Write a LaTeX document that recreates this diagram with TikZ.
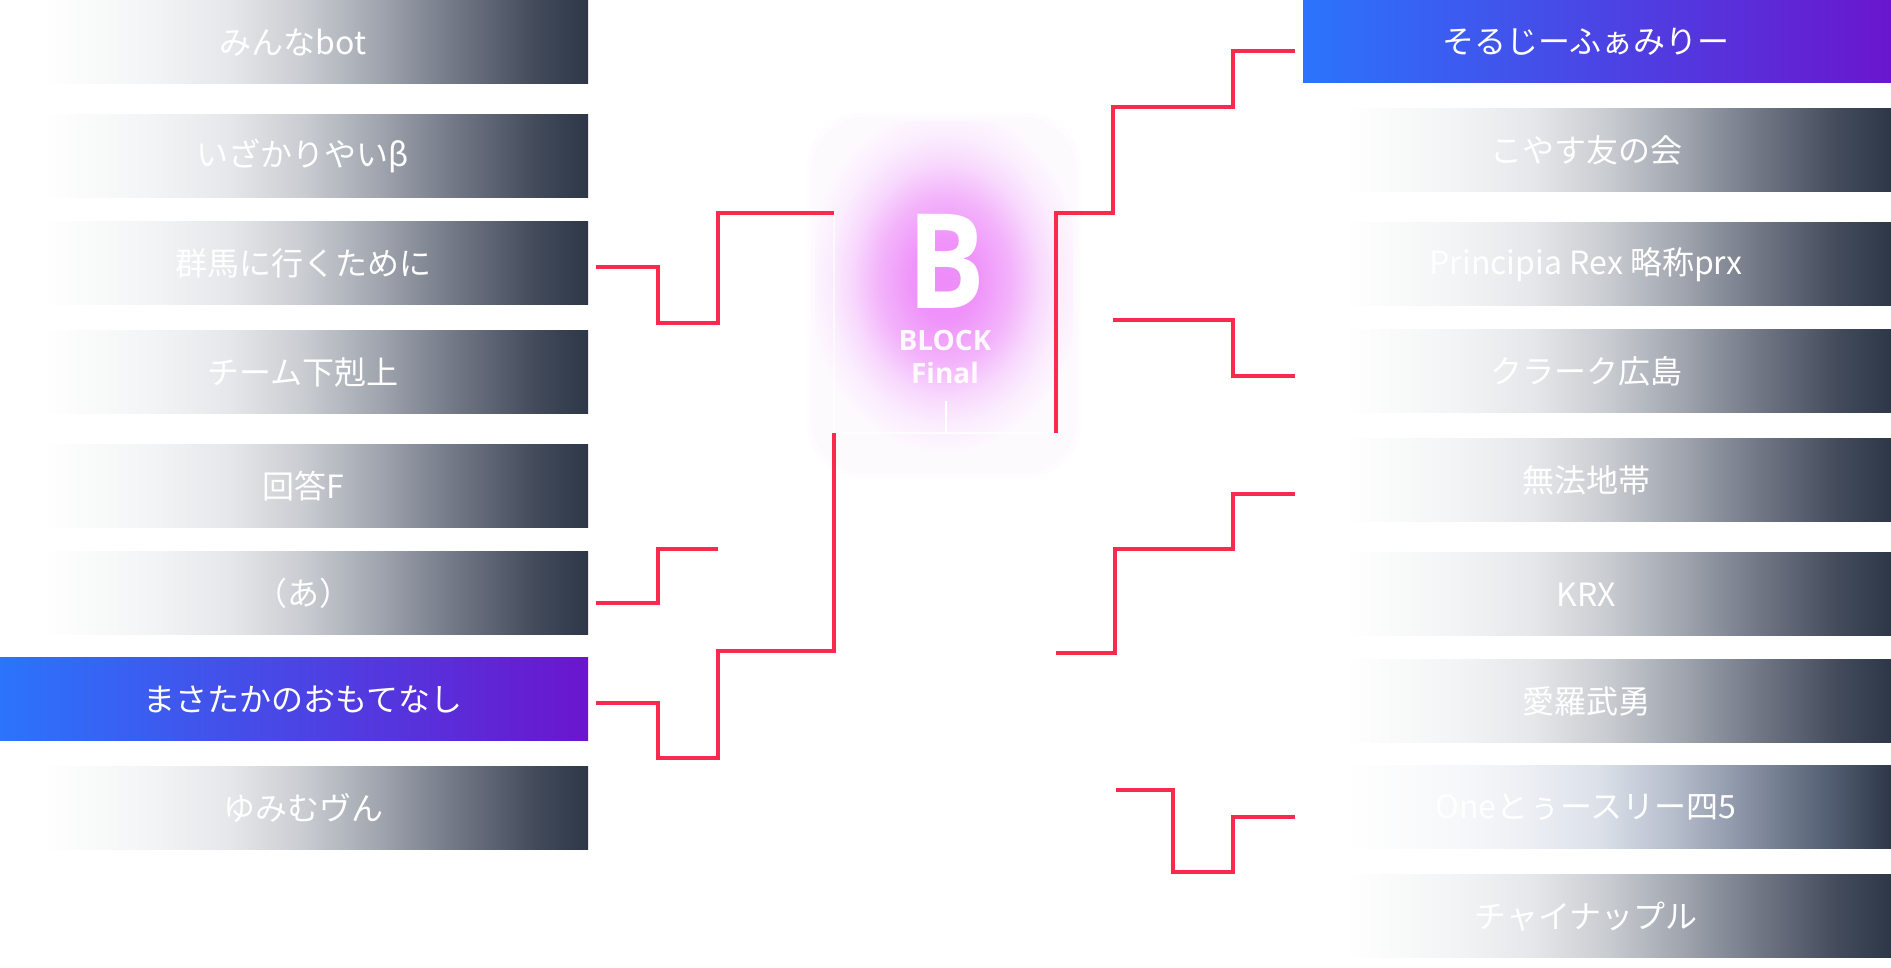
\documentclass[tikz,border=0pt]{standalone}
\usepackage{fontspec}
\usetikzlibrary{calc}
\newfontfamily\jp{Noto Sans CJK JP}
\newfontfamily\osans{Open Sans}
\definecolor{slate}{HTML}{2D3748}
\definecolor{ga}{HTML}{F3F4F5}
\definecolor{gb}{HTML}{E6E7EA}
\definecolor{gc}{HTML}{C8CBD0}
\definecolor{gd}{HTML}{9EA3AD}
\definecolor{ge}{HTML}{6F7583}
\definecolor{gf}{HTML}{434B5B}
\definecolor{oa}{HTML}{F7F8FA}
\definecolor{ob}{HTML}{EEF0F5}
\definecolor{oc}{HTML}{DCE1EA}
\definecolor{od}{HTML}{B6BECC}
\definecolor{oe}{HTML}{8790A2}
\definecolor{of}{HTML}{546074}
\definecolor{bstart}{HTML}{2B74FB}
\definecolor{bend}{HTML}{6A16CE}
\definecolor{redl}{HTML}{F92A4E}
\definecolor{pa}{HTML}{EE8CF9}
\definecolor{pb}{HTML}{EF94FA}
\definecolor{pc}{HTML}{F3B3FB}
\definecolor{pd}{HTML}{F8D9FD}
\definecolor{pe}{HTML}{FBEDFE}
\definecolor{pf}{HTML}{FDF8FE}
\pgfdeclarehorizontalshading{grayfade}{100bp}{color(0bp)=(white); color(25bp)=(white); color(28.5bp)=(white); color(38bp)=(ga); color(44.5bp)=(gb); color(51bp)=(gc); color(57.5bp)=(gd); color(64bp)=(ge); color(70.5bp)=(gf); color(75bp)=(slate); color(100bp)=(slate)}
\pgfdeclarehorizontalshading{onefade}{100bp}{color(0bp)=(white); color(25bp)=(white); color(28.5bp)=(white); color(38bp)=(oa); color(43.5bp)=(ob); color(50bp)=(oc); color(56.5bp)=(od); color(63bp)=(oe); color(69.5bp)=(of); color(75bp)=(slate); color(100bp)=(slate)}
\pgfdeclareradialshading{glow}{\pgfpoint{0bp}{0bp}}{color(0bp)=(pa); color(6bp)=(pb); color(12bp)=(pc); color(17bp)=(pd); color(21bp)=(pe); color(25bp)=(pf); color(50bp)=(pf)}
\tikzset{
  box/.style={minimum width=588pt, minimum height=83pt, inner sep=0pt, outer sep=0pt},
  graybox/.style={box, shading=grayfade},
  bluebox/.style={box, left color=bstart, right color=bend},
  lbl/.style={inner sep=0pt, text=white, font=\jp\fontsize{32}{38}\selectfont},
  br/.style={draw=redl, line width=4pt, line join=miter},
  wline/.style={draw=white, line width=2pt},
  blk/.style={text=white, text opacity=0.92, inner sep=0pt, font=\osans\bfseries\fontsize{28}{30}\selectfont}
}
\begin{document}
\begin{tikzpicture}[x=1pt,y=-1pt]
\useasboundingbox (0,0) rectangle (1891,968);
\fill[white] (0,0) rectangle (1891,968);
% left boxes
\node[graybox] (L1) at (294,42.3) {};
\node[graybox] (L2) at (294,156.3) {};
\node[graybox] (L3) at (294,263.3) {};
\node[graybox] (L4) at (294,372.3) {};
\node[graybox] (L5) at (294,486.3) {};
\node[graybox] (L6) at (294,593.3) {};
\node[bluebox] (L7) at (294,699.3) {};
\node[graybox] (L8) at (294,808.3) {};
\node[lbl] at ($(L1.center)+(-1,0)$) {みんなbot};
\node[lbl] at ($(L2.center)+(9,0)$) {いざかりやいβ};
\node[lbl] at ($(L3.center)+(9,0)$) {群馬に行くために};
\node[lbl] at ($(L4.center)+(9,0)$) {チーム下剋上};
\node[lbl] at ($(L5.center)+(9,0)$) {回答F};
\node[lbl] at ($(L6.center)+(9,0)$) {（あ）};
\node[lbl] at ($(L7.center)+(9,0)$) {まさたかのおもてなし};
\node[lbl] at ($(L8.center)+(9,0)$) {ゆみむヴん};
% right boxes
\node[bluebox] (R1) at (1597,41.3) {};
\node[graybox] (R2) at (1597,150.3) {};
\node[graybox] (R3) at (1597,264.3) {};
\node[graybox] (R4) at (1597,371.3) {};
\node[graybox] (R5) at (1597,480.3) {};
\node[graybox] (R6) at (1597,594.3) {};
\node[graybox] (R7) at (1597,701.3) {};
\node[box, shading=onefade] (R8) at (1597,807.3) {};
\node[graybox] (R9) at (1597,916.3) {};
\node[lbl] at ($(R1.center)+(-11,0)$) {そるじーふぁみりー};
\node[lbl] at ($(R2.center)+(-11,0)$) {こやす友の会};
\node[lbl] at ($(R3.center)+(-11,0)$) {Principia Rex 略称prx};
\node[lbl] at ($(R4.center)+(-11,0)$) {クラーク広島};
\node[lbl] at ($(R5.center)+(-11,0)$) {無法地帯};
\node[lbl] at ($(R6.center)+(-11,0)$) {KRX};
\node[lbl] at ($(R7.center)+(-11,0)$) {愛羅武勇};
\node[lbl] at ($(R8.center)+(-11,0)$) {Oneとぅースリー四5};
\node[lbl] at ($(R9.center)+(-11,0)$) {チャイナップル};
% center block glow
\foreach \i in {1,2} {
  \fill[pf, opacity=0.4, rounded corners=55pt] (815-\i*4,121-\i*4) rectangle (1073+\i*4,470+\i*4);
}
\begin{scope}
  \clip[rounded corners=50pt] (815,121) rectangle (1073,470);
  \shade[shading=glow] (945,280) ellipse [x radius=138, y radius=172];
\end{scope}
\node[minimum width=222pt, minimum height=220pt, inner sep=0pt, outer sep=0pt] (C) at (945,323) {};
\draw[wline, opacity=0.8] (C.south west) -- (C.south east);
\draw[wline, opacity=0.6] (C.north west) -- (C.south west);
\draw[wline] ($(C.south)+(1,0)$) -- ++(0,-32);
\node[text=white, inner sep=0pt, font=\osans\bfseries\fontsize{132}{132}\selectfont, xscale=0.88] (Bt) at (947,261) {B};
\node[blk] (Bk) at (945,340.5) {BLOCK};
\node[blk] (Fn) at (945,373) {Final};
% brackets left
\draw[br] ($(L3.east)+(8,3.4)$) -- ++(62,0) |- (718,322.7) |- (C.north west);
\draw[br] ($(L6.east)+(8,9.4)$) -- ++(62,0) |- (718,548.7);
\draw[br] ($(L7.east)+(8,3.4)$) -- ++(62,0) |- (718,758) |- (834,650.7) -- (C.south west);
% brackets right
\draw[br] ($(R1.west)+(-8,9.4)$) -- ++(-62,0) |- (1113,106.7) |- (C.north east) -- (C.south east);
\draw[br] ($(R4.west)+(-8,4.4)$) -- ++(-62,0) |- (1113,320);
\draw[br] ($(R5.west)+(-8,13.7)$) -- ++(-62,0) |- (1115,549) |- (1056,652.7);
\draw[br] ($(R8.west)+(-8,9.4)$) -- ++(-62,0) |- (1173,871.7) |- (1116,789.7);
\end{tikzpicture}
\end{document}
